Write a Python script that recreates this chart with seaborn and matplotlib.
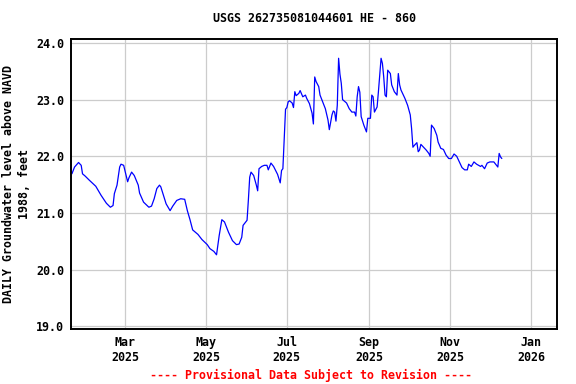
import pandas as pd
import numpy as np
import matplotlib
matplotlib.use("Agg")
import matplotlib.pyplot as plt
import matplotlib.dates as mdates
import seaborn as sns

# Daily groundwater level
# days counted from 2025-01-01
days = [19, 21, 24, 26, 27, 29, 32, 37, 41, 45, 48, 50, 51, 53, 55, 56, 58,
        61, 62, 64, 66, 69, 70, 73, 77, 79, 81, 83, 85, 86, 88, 90, 93, 95,
        98, 101, 104, 106, 108, 110, 114, 117, 121, 123, 126, 128, 130, 132,
        134, 137, 140, 143, 145, 147, 148, 151, 152, 153, 154, 156, 158, 159,
        160, 162, 164, 166, 167, 169, 171, 174, 176, 177, 178, 179, 180, 181,
        182, 183, 185, 186, 187, 188, 190, 191, 193, 195, 196, 198, 200, 201,
        202, 203, 205, 206, 208, 210, 212, 213, 215, 216, 217, 218, 219, 220,
        221, 222, 223, 224, 226, 228, 230, 232, 233, 234, 235, 236, 237, 239,
        241, 242, 244, 245, 246, 247, 249, 250, 252, 253, 254, 255, 256, 257,
        259, 260, 261, 262, 264, 265, 266, 267, 270, 272, 274, 275, 276, 277,
        279, 280, 281, 282, 284, 286, 288, 289, 290, 292, 294, 295, 297, 299,
        301, 303, 305, 307, 309, 311, 313, 315, 317, 318, 320, 322, 324, 327,
        328, 330, 332, 334, 337, 338, 340, 341, 342, 343]
level = [21.69, 21.81, 21.89, 21.84, 21.69, 21.65, 21.58, 21.47, 21.31, 21.17,
         21.10, 21.13, 21.34, 21.49, 21.81, 21.86, 21.84, 21.55, 21.62, 21.72,
         21.66, 21.49, 21.35, 21.19, 21.10, 21.12, 21.25, 21.43, 21.49, 21.46,
         21.31, 21.16, 21.04, 21.12, 21.22, 21.25, 21.24, 21.04, 20.88, 20.70,
         20.62, 20.53, 20.44, 20.37, 20.32, 20.26, 20.60, 20.88, 20.84, 20.66,
         20.51, 20.44, 20.45, 20.57, 20.78, 20.87, 21.23, 21.63, 21.72, 21.66,
         21.49, 21.39, 21.78, 21.82, 21.84, 21.84, 21.76, 21.88, 21.82, 21.68,
         21.53, 21.75, 21.78, 22.30, 22.83, 22.86, 22.96, 22.98, 22.94, 22.86,
         23.14, 23.07, 23.11, 23.16, 23.05, 23.08, 23.02, 22.93, 22.76, 22.57,
         23.40, 23.32, 23.23, 23.08, 22.96, 22.84, 22.64, 22.47, 22.73, 22.80,
         22.78, 22.62, 22.90, 23.73, 23.45, 23.29, 23.00, 22.98, 22.94, 22.84,
         22.78, 22.78, 22.71, 23.05, 23.23, 23.13, 22.70, 22.55, 22.43, 22.67,
         22.67, 23.08, 23.05, 22.78, 22.87, 23.14, 23.73, 23.64, 23.40, 23.08,
         23.05, 23.52, 23.46, 23.26, 23.20, 23.14, 23.08, 23.46, 23.26, 23.17,
         23.02, 22.90, 22.73, 22.49, 22.16, 22.19, 22.24, 22.08, 22.11, 22.21,
         22.16, 22.11, 22.05, 22.00, 22.55, 22.49, 22.37, 22.25, 22.14, 22.12,
         22.02, 21.96, 21.96, 22.04, 22.00, 21.90, 21.80, 21.76, 21.76, 21.86,
         21.82, 21.90, 21.86, 21.82, 21.84, 21.78, 21.88, 21.90, 21.90, 21.87,
         21.81, 22.05, 21.99, 21.96]

title = "USGS 262735081044601 HE - 860"
ylabel = "DAILY Groundwater level above NAVD\n1988, feet"
footer = "---- Provisional Data Subject to Revision ----"

df = pd.DataFrame({
    "date": pd.Timestamp("2025-01-01") + pd.to_timedelta(days, unit="D"),
    "level": level,
})

sns.set_style("white")
plt.rcParams["font.family"] = ["DejaVu Sans Mono"]
plt.rcParams["font.weight"] = "bold"
plt.rcParams["text.color"] = "black"
plt.rcParams["axes.labelcolor"] = "black"
plt.rcParams["xtick.color"] = "black"
plt.rcParams["ytick.color"] = "black"
fs = 8.4

fig = plt.figure(figsize=(5.76, 3.84), dpi=100)
ax = fig.add_axes([0.1233, 0.1432, 0.967 - 0.1233, 0.8984 - 0.1432])

sns.lineplot(data=df, x="date", y="level", ax=ax, color="#0000ff",
             linewidth=0.9, estimator=None)

ax.set_xlim(pd.Timestamp("2025-01-19 08:00"), pd.Timestamp("2026-01-20 14:00"))
ax.set_ylim(18.95, 24.07)
ax.set_yticks([19, 20, 21, 22, 23, 24])
ax.yaxis.set_major_formatter(matplotlib.ticker.FormatStrFormatter("%.1f"))
ax.xaxis.set_major_locator(mdates.MonthLocator(bymonth=[1, 3, 5, 7, 9, 11]))
ax.xaxis.set_major_formatter(mdates.DateFormatter("%b\n%Y"))

ax.grid(True, color="#cccccc", linewidth=0.9)
ax.tick_params(length=0, labelsize=fs, pad=5, colors="black")
for lab in ax.get_xticklabels() + ax.get_yticklabels():
    lab.set_fontweight("bold")
for s in ax.spines.values():
    s.set_color("black")
    s.set_linewidth(1.4)

ax.set_xlabel("")
ax.set_ylabel(ylabel, fontsize=fs, fontweight="bold", labelpad=4,
              linespacing=1.3, color="black")
ax.set_title(title, fontsize=fs, fontweight="bold", pad=12, color="black")
fig.text(0.540, 0.014, footer, color="red", fontsize=fs, fontweight="bold",
         ha="center")

fig.savefig("out.png", dpi=100)
